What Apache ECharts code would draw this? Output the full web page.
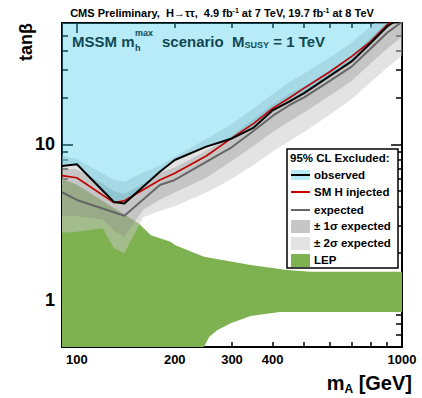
<!DOCTYPE html>
<html>
<head>
<meta charset="utf-8">
<script src="https://cdn.jsdelivr.net/npm/echarts@6/dist/echarts.min.js"></script>
<style>
html, body { margin: 0; padding: 0; background: #fff; }
#chart { width: 422px; height: 398px; }
</style>
</head>
<body>
<div id="chart"></div>
<script>
// values: mA in GeV, tan(beta)
const massObs = [90, 100, 130, 140, 180, 200, 250, 300, 350, 400, 450, 500, 600, 700, 800, 900, 1000];
const tanbObs = [7.26, 7.44, 4.26, 4.17, 6.67, 7.93, 9.65, 10.9, 12.8, 16.5, 18.8, 21.3, 27.5, 34, 44.5, 57, 66];
const tanbInj = [6.29, 6.1, 4.22, 4.34, 5.9, 6.51, 8.41, 11.0, 13.6, 17.0, 19.8, 22.9, 29.2, 36.6, 45.6, 58.4, 70];

const massExp = [90, 100, 140, 180, 200, 250, 300, 350, 400, 450, 500, 600, 700, 800, 900, 1000];
const tanbExp = [4.92, 4.39, 3.48, 5.48, 5.9, 7.7, 9.6, 12.2, 15.2, 17.8, 20, 25.5, 31.5, 41, 52, 61];

const bandMass = [90, 100, 120, 130, 140, 160, 180, 200, 250, 300, 350, 400, 450, 500, 600, 700, 800, 900, 1000];
const sig2Lo = [2.7, 2.75, 2.89, 2.15, 2.0, 3.4, 3.75, 4.0, 4.9, 6.0, 7.4, 9.0, 10.5, 12, 15.5, 19.5, 25, 31, 37];
const sig1Lo = [3.5, 3.45, 3.3, 2.8, 2.55, 3.8, 4.4, 4.9, 6.1, 7.8, 9.8, 12, 14, 16, 20.5, 25.5, 33, 41, 49];
const sig1Hi = [7.0, 6.9, 5.6, 5.0, 4.8, 5.6, 6.6, 7.1, 9.1, 11.4, 14.5, 18, 21, 23.5, 30, 37, 48, 61, 72];
const sig2Hi = [8.5, 8.0, 6.5, 5.9, 5.75, 6.6, 7.3, 8.3, 10.8, 13.5, 17, 21, 25, 28.5, 36, 45, 57, 72, 86];

// LEP excluded region outline: upper edge left->right, lower edge right->left
const lepMassTop = [90, 100, 110, 155, 169, 194, 201, 246, 342, 443, 523, 1000];
const lepTanbTop = [6.0, 5.5, 4.84, 3.1, 2.61, 2.37, 2.25, 1.9, 1.68, 1.56, 1.52, 1.52];
const lepMassBot = [1000, 420, 342, 297, 270, 255, 246, 90];
const lepTanbBot = [0.84, 0.84, 0.79, 0.71, 0.64, 0.58, 0.5, 0.5];

// axis ticks
const xLabels = [100, 200, 300, 400, 1000];
const xMajor = [100, 1000];
const xMinor = [200, 300, 400, 500, 600, 700, 800, 900];
const yLabels = [1, 10];
const yMajor = [1, 10];
const yMinor = [0.5, 0.6, 0.7, 0.8, 0.9, 2, 3, 4, 5, 6, 7, 8, 9, 20, 30, 40, 50, 60];

const FONT = '"Liberation Sans", Arial, Helvetica, sans-serif';
const lg = v => Math.log10(v);
const pts = (xs, ys) => xs.map((x, i) => [lg(x), lg(ys[i])]);

const chart = echarts.init(document.getElementById('chart'), null, { renderer: 'svg' });

function polygon(name, ring, color, z) {
  return {
    type: 'custom', name: name, z: z, clip: true, silent: true,
    data: ring,
    renderItem(params, api) {
      if (params.dataIndex !== 0) return null;
      return {
        type: 'polygon',
        shape: { points: ring.map(p => api.coord(p)) },
        style: { fill: color }
      };
    }
  };
}

function band(name, lo, hi, color, z) {
  const upper = pts(bandMass, hi);
  const lower = pts(bandMass, lo).reverse();
  return polygon(name, upper.concat(lower), color, z);
}

const frame = { show: true, onZero: false, lineStyle: { color: '#000', width: 2 } };

function xAx(position, ticks, len, labels) {
  return {
    type: 'value', position: position, min: lg(90), max: 3,
    axisLine: frame, splitLine: { show: false },
    axisTick: { show: true, inside: true, length: len, customValues: ticks.map(lg),
      lineStyle: { color: '#000', width: 1.5 } },
    axisLabel: labels ? {
      show: true, customValues: labels.map(lg), margin: 6,
      formatter: v => String(Math.round(Math.pow(10, v))),
      color: '#000', fontFamily: FONT, fontWeight: 'bold', fontSize: 13
    } : { show: false }
  };
}

function yAx(position, ticks, len, labels) {
  return {
    type: 'value', position: position, min: lg(0.5), max: lg(60),
    axisLine: frame, splitLine: { show: false },
    axisTick: { show: true, inside: true, length: len, customValues: ticks.map(lg),
      lineStyle: { color: '#000', width: 1.5 } },
    axisLabel: labels ? {
      show: true, customValues: labels.map(lg), margin: 7,
      formatter: v => String(Math.round(Math.pow(10, v))),
      color: '#000', fontFamily: FONT, fontWeight: 'bold', fontSize: 18
    } : { show: false }
  };
}

const txt = (x, y, text, extra) => ({
  type: 'text', x: x, y: y, silent: true,
  style: Object.assign({ text: text, fill: '#000', fontFamily: FONT, fontWeight: 'bold', fontSize: 11.5 }, extra || {})
});

// legend drawn as a graphic box
const LX = 287, LY = 149;
const legendGraphic = [
  { type: 'rect', shape: { x: LX, y: LY, width: 111, height: 119 },
    style: { fill: '#fff', stroke: '#000', lineWidth: 1.5 }, z: 10 },
  Object.assign(txt(LX + 3, LY + 9, '95% CL Excluded:', { verticalAlign: 'middle' }), { z: 11 }),
  { type: 'rect', shape: { x: LX + 4, y: LY + 21, width: 19, height: 10 }, style: { fill: '#b7ebf7' }, z: 11 },
  { type: 'line', shape: { x1: LX + 4, y1: LY + 26, x2: LX + 23, y2: LY + 26 }, style: { stroke: '#000', lineWidth: 2 }, z: 11 },
  { type: 'line', shape: { x1: LX + 4, y1: LY + 43, x2: LX + 23, y2: LY + 43 }, style: { stroke: '#c00000', lineWidth: 2 }, z: 11 },
  { type: 'line', shape: { x1: LX + 4, y1: LY + 61, x2: LX + 23, y2: LY + 61 }, style: { stroke: '#666', lineWidth: 2 }, z: 11 },
  { type: 'rect', shape: { x: LX + 4, y: LY + 71, width: 19, height: 13 }, style: { fill: '#c6c6c6' }, z: 11 },
  { type: 'rect', shape: { x: LX + 4, y: LY + 88, width: 19, height: 13 }, style: { fill: '#e3e3e3' }, z: 11 },
  { type: 'rect', shape: { x: LX + 4, y: LY + 105, width: 19, height: 13 }, style: { fill: '#7eb14f' }, z: 11 },
  Object.assign(txt(LX + 27, LY + 26, 'observed', { verticalAlign: 'middle' }), { z: 11 }),
  Object.assign(txt(LX + 27, LY + 43, 'SM H injected', { verticalAlign: 'middle' }), { z: 11 }),
  Object.assign(txt(LX + 27, LY + 61, 'expected', { verticalAlign: 'middle' }), { z: 11 }),
  Object.assign(txt(LX + 27, LY + 77, '\u00b1 1\u03c3 expected', { verticalAlign: 'middle' }), { z: 11 }),
  Object.assign(txt(LX + 27, LY + 94, '\u00b1 2\u03c3 expected', { verticalAlign: 'middle' }), { z: 11 }),
  Object.assign(txt(LX + 27, LY + 111, 'LEP', { verticalAlign: 'middle' }), { z: 11 })
];

const labelsGraphic = [
  txt(222, 13, 'CMS Preliminary,  H\u2192\u03c4\u03c4,  4.9 fb{sup|-1} at 7 TeV, 19.7 fb{sup|-1} at 8 TeV', {
    align: 'center', verticalAlign: 'middle', fontSize: 11,
    rich: { sup: { fontSize: 7, fontWeight: 'bold', fontFamily: FONT, verticalAlign: 'top', padding: [0, 0, 5, 0] } }
  }),
  txt(72, 41, 'MSSM m', { verticalAlign: 'middle', fontSize: 15 }),
  txt(135, 33, 'max', { verticalAlign: 'middle', fontSize: 9 }),
  txt(135, 48, 'h', { verticalAlign: 'middle', fontSize: 9 }),
  txt(162, 41, 'scenario  M{sub|SUSY} = 1 TeV', {
    verticalAlign: 'middle', fontSize: 15,
    rich: { sub: { fontSize: 9, fontWeight: 'bold', fontFamily: FONT, padding: [8, 0, 0, 0] } }
  }),
  { type: 'text', x: 26, y: 23, rotation: Math.PI / 2, silent: true,
    style: { text: 'tan\u03b2', fill: '#000', fontFamily: FONT, fontWeight: 'bold', fontSize: 18,
      align: 'right', verticalAlign: 'middle' } },
  txt(412, 383, 'm{sub|A} [GeV]', {
    align: 'right', verticalAlign: 'middle', fontSize: 20,
    rich: { sub: { fontSize: 12, fontWeight: 'bold', fontFamily: FONT, padding: [12, 0, 0, 0] } }
  })
];

const option = {
  animation: false,
  backgroundColor: '#fff',
  grid: { left: 62, right: 20, top: 23, bottom: 51, outerBoundsMode: 'none' },
  xAxis: [
    xAx('bottom', xMajor, 10, xLabels),
    xAx('bottom', xMinor, 5, null),
    xAx('top', xMajor, 10, null),
    xAx('top', xMinor, 5, null)
  ],
  yAxis: [
    yAx('left', yMajor, 11, yLabels),
    yAx('left', yMinor, 6, null),
    yAx('right', yMajor, 11, null),
    yAx('right', yMinor, 6, null)
  ],
  series: [
    polygon('LEP', pts(lepMassTop, lepTanbTop).concat(pts(lepMassBot, lepTanbBot)), '#7eb14f', 1),
    band('2sigma', sig2Lo, sig2Hi, 'rgba(200,200,200,0.5)', 2),
    band('1sigma', sig1Lo, sig1Hi, 'rgba(128,128,128,0.3)', 3),
    {
      type: 'line', name: 'excluded', z: 4, silent: true, showSymbol: false,
      data: pts(massObs, tanbObs),
      lineStyle: { width: 0, opacity: 0 },
      areaStyle: { origin: 'end', color: 'rgba(49,198,232,0.35)', opacity: 1 }
    },
    {
      type: 'line', name: 'expected', z: 5, silent: true, showSymbol: false,
      data: pts(massExp, tanbExp), lineStyle: { color: '#666', width: 2 }
    },
    {
      type: 'line', name: 'SM H injected', z: 6, silent: true, showSymbol: false,
      data: pts(massObs, tanbInj), lineStyle: { color: '#c00000', width: 1.6 }
    },
    {
      type: 'line', name: 'observed', z: 7, silent: true, showSymbol: false,
      data: pts(massObs, tanbObs), lineStyle: { color: '#000', width: 2 }
    }
  ],
  graphic: labelsGraphic.concat(legendGraphic)
};

chart.setOption(option);
</script>
</body>
</html>
